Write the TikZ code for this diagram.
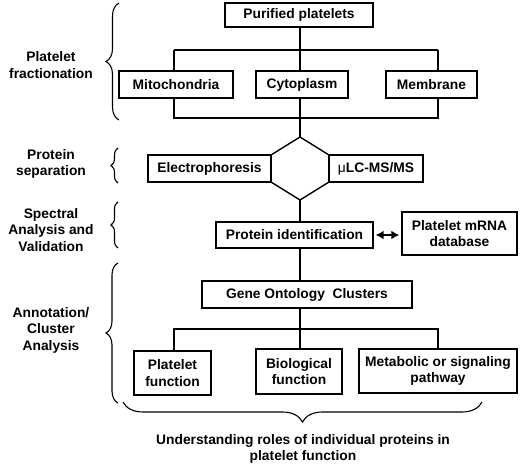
\documentclass[tikz,border=0pt]{standalone}
\usepackage{fontspec}
\setmainfont{Liberation Sans}
\usetikzlibrary{decorations.pathreplacing,arrows.meta}
\begin{document}
\begin{tikzpicture}[x=1pt,y=-1pt,
  every node/.style={font=\fontsize{13.8}{16.5}\selectfont\bfseries},
  box/.style={draw, line width=1.4pt, inner sep=0pt, align=center},
  conn/.style={line width=1.4pt},
  lbl/.style={align=center},
  brc/.style={decorate, line width=1.1pt, decoration={brace, amplitude=#1}}]
\useasboundingbox (0,0) rectangle (520,466);
% boxes
\node[box, minimum width=148pt, minimum height=24pt] (pp) at (299,15) {Purified platelets};
\node[box, minimum width=114pt, minimum height=27pt] (mito) at (176,84.5) {Mitochondria};
\node[box, minimum width=92pt, minimum height=27pt] (cyto) at (302,84.5) {Cytoplasm};
\node[box, minimum width=91pt, minimum height=27pt] (memb) at (431.5,84.5) {Membrane};
\node[box, minimum width=123pt, minimum height=27pt] (electro) at (209.5,168.5) {Electrophoresis};
\node[box, minimum width=94pt, minimum height=27pt] (mulc) at (376,168.5) {{\mdseries μ}LC-MS/MS};
\node[box, minimum width=157pt, minimum height=26pt] (pid) at (294.5,235) {Protein identification};
\node[box, minimum width=115pt, minimum height=43pt] (mrna) at (459.5,233.5) {Platelet mRNA\\database};
\node[box, minimum width=210pt, minimum height=27pt] (go) at (307,294.5) {Gene Ontology\ \ Clusters};
\node[box, minimum width=77pt, minimum height=44pt] (pf) at (172.5,373) {Platelet\\function};
\node[box, minimum width=86pt, minimum height=45pt] (bf) at (299,371.5) {Biological\\function};
\node[box, minimum width=158pt, minimum height=44pt] (mp) at (438,371) {Metabolic or signaling\\pathway};
% hexagon
\draw[conn] (300,137) coordinate (hexT) -- (329,155) -- (329,182) -- (300,200) coordinate (hexB)
  -- (271,182) -- (271,155) -- cycle;
% junction coordinates
\coordinate (j1) at (300,50);
\coordinate (j1l) at (174,50);
\coordinate (j1r) at (438,50);
\coordinate (j2) at (300,118);
\coordinate (j2l) at (174,118);
\coordinate (j2r) at (438,118);
\coordinate (j3) at (300,329);
\coordinate (j3l) at (174,329);
\coordinate (j3r) at (438,329);
% connectors
\draw[conn] (pp.south -| j1) -- (j1);
\draw[conn] (j1l) -- (j1r);
\draw[conn] (j1l) -- (j1l |- mito.north);
\draw[conn] (j1) -- (j1 |- cyto.north);
\draw[conn] (j1r) -- (j1r |- memb.north);
\draw[conn] (j2l |- mito.south) -- (j2l) -- (j2r) -- (j2r |- memb.south);
\draw[conn] (j2 |- cyto.south) -- (hexT);
\draw[conn] (hexB) -- (hexB |- pid.north);
\draw[conn] (j3 |- pid.south) -- (j3 |- go.north);
\draw[conn] (j3 |- go.south) -- (j3) -- (j3 |- bf.north);
\draw[conn] (j3l |- pf.north) -- (j3l) -- (j3r) -- (j3r |- mp.north);
\draw[line width=2pt, {Latex[length=8pt,width=9pt]}-{Latex[length=8pt,width=9pt]}, shorten <=2pt, shorten >=2pt] (pid.east) -- (pid.east -| mrna.west);
% braces
\draw[brc=13pt] (119,120) -- (119,3);
\draw[brc=7pt] (118,183) -- (118,148);
\draw[brc=7pt] (118,248) -- (118,202);
\draw[brc=12pt] (118,403) -- (118,263);
\draw[brc=20pt] (482,402) -- (123,402);
% labels
\node[lbl] (l1) at (51,65) {Platelet\\fractionation};
\node[lbl] (l2) at (51,164) {Protein\\separation};
\node[lbl] (l3) at (51,230) {Spectral\\Analysis and\\Validation};
\node[lbl] (l4) at (51,330) {Annotation/\\Cluster\\Analysis};
\node[lbl] (bt) at (303,449) {Understanding roles of individual proteins in\\platelet function};
\end{tikzpicture}
\end{document}
